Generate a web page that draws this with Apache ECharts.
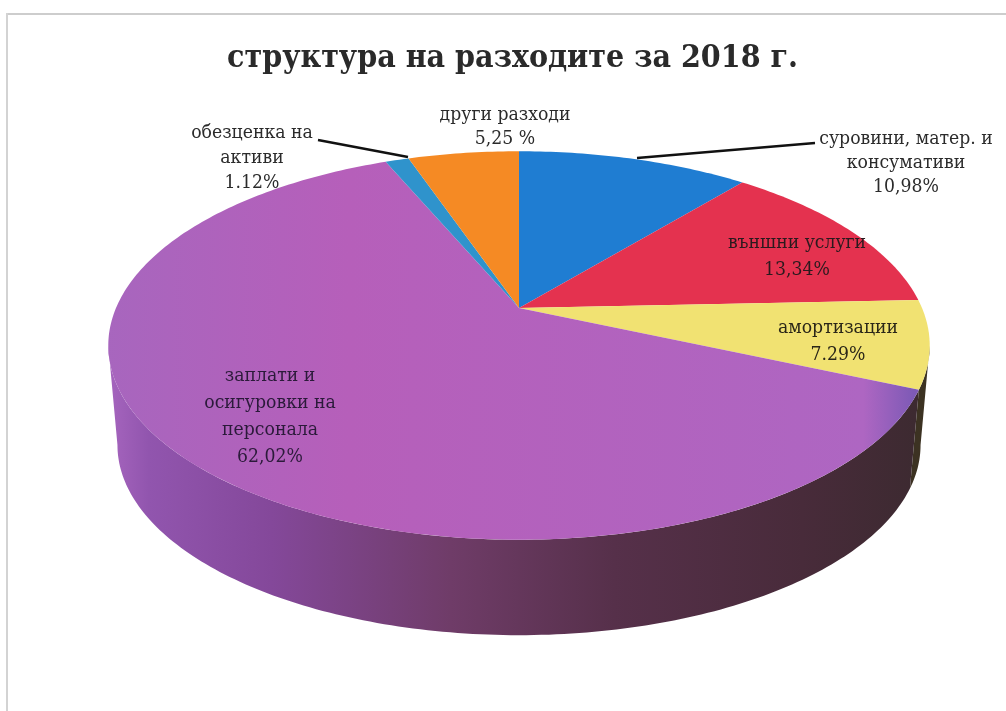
<!DOCTYPE html>
<html>
<head>
<meta charset="utf-8">
<style>html,body{margin:0;padding:0;background:#fff}#chart{width:1006px;height:711px}</style>
<script src="https://cdn.jsdelivr.net/npm/echarts@6/dist/echarts.min.js"></script>
</head>
<body>
<div id="chart"></div>
<script>
// Expense structure, percent of total, clockwise from twelve o'clock
const categories = [
  'суровини, матер. и\nконсумативи',
  'външни услуги',
  'амортизации',
  'заплати и\nосигуровки на\nперсонала',
  'обезценка на\nактиви',
  'други разходи'
];
const shares = [10.98, 13.34, 7.29, 62.02, 1.12, 5.25];
const shareTexts = ['10,98%', '13,34%', '7.29%', '62,02%', '1.12%', '5,25 %'];
const chartTitle = 'структура на разходите за 2018 г.';

const topColors = [
  '#1F7DD2', '#E4324F', '#F1E272',
  {type: 'linear', global: true, x: 100, y: 0, x2: 930, y2: 0, colorStops: [
    {offset: 0, color: '#A766BE'}, {offset: 0.3, color: '#B65FBA'},
    {offset: 0.92, color: '#AE66C2'}, {offset: 0.98, color: '#7E5AB6'}, {offset: 1, color: '#7E5AB6'}
  ]},
  '#2F93CC', '#F58A24'
];
const wallColors = [
  '#143f6a', '#6e1a28', '#3c3222',
  {type: 'linear', global: true, x: 108, y: 0, x2: 925, y2: 0, colorStops: [
    {offset: 0, color: '#A665BE'}, {offset: 0.05, color: '#9155AE'}, {offset: 0.2, color: '#84489A'},
    {offset: 0.42, color: '#6F3C68'}, {offset: 0.62, color: '#56304A'},
    {offset: 0.85, color: '#482B3A'}, {offset: 1, color: '#3C2A30'}
  ]},
  '#1a4a66', '#7a4410'
];

// Perspective planes of the disc: upper face and lower rim
const upperPlane = {cx: 519, cy: 308, a: 403, b: 187, p: 0.193};
const lowerPlane = {cx: 519, cy: 408.4, a: 394, b: 183, p: 0.193};

// Label placement: centre x and the y of the first line
const labelSpots = [
  {x: 906, y: 139, gap: 24, color: '#2b2b2b'},
  {x: 797, y: 243, gap: 27, color: '#2a1a1e'},
  {x: 838, y: 328, gap: 27, color: '#2a2618'},
  {x: 270, y: 376, gap: 27, color: '#2b1a3a'},
  {x: 252, y: 133, gap: 25, color: '#2b2b2b'},
  {x: 505, y: 115, gap: 24, color: '#2b2b2b'}
];
const leaders = [
  [[815, 143], [637, 158]],
  [[318, 140], [408, 157]]
];

const total = shares.reduce((a, b) => a + b, 0);
const cumulative = [];
shares.reduce((sum, v, i) => { cumulative[i] = [sum, sum + v]; return sum + v; }, 0);

function project(share, plane) {
  const t = share / total * Math.PI * 2;
  const u = Math.sin(t), v = -Math.cos(t);
  const d = 1 - plane.p * v;
  return [plane.cx + plane.a * u / d, plane.cy + plane.b * v / d];
}
function arc(from, to, plane) {
  const n = Math.max(2, Math.ceil((to - from) / 0.25));
  const pts = [];
  for (let i = 0; i <= n; i++) pts.push(project(from + (to - from) * i / n, plane));
  return pts;
}
const rows = shares.map((v, i) => [cumulative[i][0], cumulative[i][1], i]);

// The rim is seen only between the two silhouette tangents of the disc
const rimStart = Math.acos(-upperPlane.p) / (Math.PI * 2) * total;
const rimEnd = total - rimStart;
const rimRows = rows
  .map(r => [Math.max(r[0], rimStart), Math.min(r[1], rimEnd), r[2]])
  .filter(r => r[1] > r[0]);

const option = {
  animation: false,
  backgroundColor: '#fff',
  title: {
    text: chartTitle,
    left: 507.5, top: 38, textAlign: 'center',
    textStyle: {fontFamily: '"DejaVu Serif Condensed", "DejaVu Serif"', fontWeight: 'bold', fontSize: 31.8, color: '#2a2a2a'}
  },
  graphic: [
    {type: 'line', shape: {x1: 8, y1: 14, x2: 1006, y2: 14}, style: {stroke: '#bdbdbd', lineWidth: 1.5}},
    {type: 'line', shape: {x1: 7, y1: 13, x2: 7, y2: 711}, style: {stroke: '#c4c4c4', lineWidth: 1.5}}
  ],
  series: [
    {
      type: 'custom', coordinateSystem: 'none', silent: true, z: 1, data: rimRows,
      renderItem: (params, api) => {
        const from = api.value(0), to = api.value(1), i = api.value(2);
        const pts = arc(from, to, upperPlane).concat(arc(from, to, lowerPlane).reverse());
        return {type: 'polygon', shape: {points: pts}, style: {fill: wallColors[i]}};
      }
    },
    {
      type: 'custom', coordinateSystem: 'none', silent: true, z: 2, data: rows,
      renderItem: (params, api) => {
        const from = api.value(0), to = api.value(1), i = api.value(2);
        const pts = [[upperPlane.cx, upperPlane.cy]].concat(arc(from, to, upperPlane));
        return {type: 'polygon', shape: {points: pts}, style: {fill: topColors[i]}};
      }
    },
    {
      type: 'custom', coordinateSystem: 'none', silent: true, z: 3, data: leaders.map((l, i) => [i]),
      renderItem: (params, api) => {
        const l = leaders[api.value(0)];
        return {type: 'line', shape: {x1: l[0][0], y1: l[0][1], x2: l[1][0], y2: l[1][1]},
          style: {stroke: '#111', lineWidth: 2.4}};
      }
    },
    {
      type: 'custom', coordinateSystem: 'none', silent: true, z: 4, data: rows,
      renderItem: (params, api) => {
        const i = api.value(2), s = labelSpots[i];
        const lines = categories[i].split('\n').concat(shareTexts[i]);
        return {type: 'group', children: lines.map((t, k) => ({
          type: 'text',
          style: {x: s.x, y: s.y + k * s.gap, text: t, align: 'center', verticalAlign: 'middle',
            font: '19.2px "DejaVu Serif Condensed", "DejaVu Serif"', fill: s.color}
        }))};
      }
    }
  ]
};
echarts.init(document.getElementById('chart'), null, {renderer: 'canvas'}).setOption(option);
</script>
</body>
</html>
